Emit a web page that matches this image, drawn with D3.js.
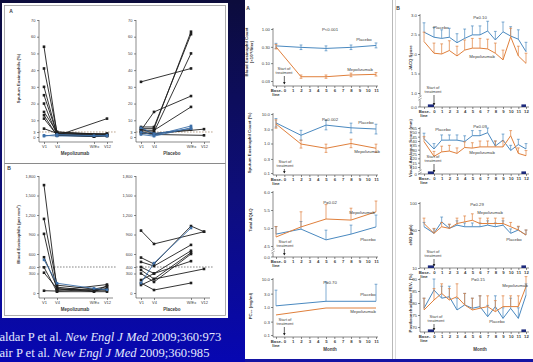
<!DOCTYPE html>
<html>
<head>
<meta charset="utf-8">
<script src="https://cdn.jsdelivr.net/npm/d3@7"></script>
<style>
  html, body { margin: 0; padding: 0; background: #0b0b5a; }
  svg { display: block; }
</style>
</head>
<body>
<svg id="chart" width="533" height="362"></svg>
<script>
// ---------- Haldar: single patients at V1, V4, withdrawal/exacerbation, V12 ----------
const visits = ['V1', 'V4', 'W/Ex', 'V12'];
const sputumTicks = [0, 3, 10, 20, 30, 40, 50, 60, 70];
const bloodTicks = [0, 300, 400, 600, 900, 1200, 1500, 1800];

const sputumMepo = [
  [54, 2, null, 1], [41, 3, null, 1.5], [30, 1.5, 0.5, 1], [25, 2, null, 0.8],
  [20, 1, 0.3, 2], [15, 3, null, 1], [13, 0.8, null, 11], [11, 1.2, 0.2, 0.5],
  [5, 2.2, null, 2]
];
const sputumMepoBlue = [[0.5, 1.5, 0.8, 1], [1, 0.6, null, 0.6]];
const sputumPlac = [
  [33, null, 41, null], [4, 15, 24.5, null], [5, 5, 63, null], [6, 6, 61.5, null],
  [3, 3, 50, null], [4, 4, 18, null], [5, 2, null, 4.7], [3, 1.5, null, 1], [2, 2, 4.5, null]
];
const sputumPlacBlue = [[3, 1, 6.6, null], [1.5, 0.5, 5.5, null], [5.5, 2, 5, null]];

const bloodMepo = [
  [1660, 60, null, 40], [1140, 120, 60, 100], [910, 40, null, 130], [550, 90, 30, 70],
  [395, 20, null, 20], [312, 70, 20, 110], [35, 30, null, 60]
];
const bloodMepoBlue = [[510, 150, 70, 50]];
const bloodPlac = [
  [960, 755, null, 943], [545, 446, 1030, 943], [478, 415, 740, null], [400, 300, 650, null],
  [354, 215, 620, null], [300, 170, 600, null], [200, 300, 490, null], [154, 46, 154, null],
  [123, 215, null, 370]
];
const bloodPlacBlue = [[154, 460, 1000, null]];

// ---------- Nair: group means by month (-1 = baseline) ----------
const nairMonths = [-1, 2, 5, 8, 11];
const pc20Months = [-1, 5, 11];
const bloodEosPlacebo = [0.32, 0.29, 0.27, 0.29, 0.33];
const bloodEosPlaceboLo = [0.27, 0.25, 0.23, 0.25, 0.28];
const bloodEosPlaceboHi = [0.38, 0.34, 0.32, 0.34, 0.39];
const bloodEosMepo = [0.30, 0.040, 0.040, 0.045, 0.047];
const bloodEosMepoLo = [0.26, 0.036, 0.036, 0.040, 0.042];
const bloodEosMepoHi = [0.35, 0.045, 0.045, 0.051, 0.053];
const sputumEosPlacebo = [5.0, 1.9, 4.2, 3.4, 3.1];
const sputumEosPlaceboLo = [3.6, 1.3, 2.9, 2.3, 2.1];
const sputumEosPlaceboHi = [7.0, 2.8, 6.0, 4.9, 4.5];
const sputumEosMepo = [4.6, 0.96, 0.69, 1.0, 0.69];
const sputumEosMepoLo = [3.3, 0.70, 0.50, 0.72, 0.50];
const sputumEosMepoHi = [6.3, 1.3, 0.95, 1.4, 0.95];
const aqlqPlacebo = [4.83, 4.97, 4.67, 4.83, 5.03];
const aqlqPlaceboHi = [5.04, 5.18, 4.94, 5.08, 5.36];
const aqlqMepo = [4.75, 5.03, 5.25, 5.22, 5.45];
const aqlqMepoHi = [5.04, 5.45, 5.65, 5.55, 5.75];
const pc20Placebo = [1.1, 1.6, 1.6];
const pc20PlaceboHi = [4.0, 8.0, 6.5];
const pc20Mepo = [0.52, 0.92, 0.92];

// ---------- Nair B: baseline (-1.3) then months 0..12 ----------
const monthsB = [-1.3, 0, 1, 2, 3, 4, 5, 6, 7, 8, 9, 10, 11, 12];
const jacqPlacebo = [2.56, 2.43, 2.40, 2.43, 2.29, 2.40, 2.49, 2.49, 2.59, 2.36, 2.57, 2.46, 2.38, 2.06];
const jacqPlaceboHi = [2.80, 2.68, 2.62, 2.66, 2.52, 2.64, 2.72, 2.72, 2.84, 2.58, 2.82, 2.70, 2.62, 2.30];
const jacqMepo = [2.32, 2.02, 2.00, 2.09, 1.95, 2.10, 2.15, 2.15, 2.13, 2.02, 1.85, 2.44, 1.95, 1.76];
const jacqMepoHi = [2.56, 2.28, 2.26, 2.34, 2.20, 2.36, 2.40, 2.40, 2.38, 2.28, 2.10, 2.66, 2.20, 2.02];
const vasPlacebo = [42.7, 30.8, 41, 41, 41, 39.3, 46.1, 46.1, 49.6, 34.2, 41, 29.1, 35.9, 30.8];
const vasPlaceboHi = [49, 37, 47, 47, 47, 46, 52, 52, 55, 40, 48, 35, 42, 37];
const vasMepo = [39.3, 22.3, 27.4, 28.4, 25.7, 32.5, 31.8, 33.2, 33.2, 33.2, 33.2, 46.1, 25.7, 23];
const vasMepoHi = [45, 28, 34, 35, 32, 39, 38, 40, 40, 40, 40, 52, 32, 29];
const enoPlacebo = [56, 46.5, 65, 53, 59, 56, 56, 56, 59, 56, 59, 46.5, 50, 44.7];
const enoPlaceboHi = [64, 52, 74, 60, 67, 63, 63, 63, 67, 63, 67, 52, 56, 50];
const enoMepo = [62, 46.5, 56, 53, 62, 65, 68, 62, 62, 62, 62, 56, 50, 44.7];
const enoMepoHi = [72, 53, 64, 61, 72, 76, 80, 72, 72, 72, 72, 64, 57, 50];
const fevPlacebo = [77.8, 85.4, 82, 82.6, 77.1, 79.2, 77.8, 78.5, 74.3, 78.5, 73.6, 77.8, 73.6, 83.3];
const fevPlaceboHi = [82, 90, 87, 87, 82, 84, 82, 83, 79, 83, 78, 82, 78, 88];
const fevMepo = [77.1, 81.25, 84, 81.25, 82.6, 79.2, 77.1, 77.8, 78.5, 76.4, 78.5, 78.5, 78.5, 86.8];
const fevMepoHi = [82, 86, 88, 86, 88, 84, 82, 83, 83, 81, 83, 83, 83, 91];

const citeLines = [
  ['aldar P et al. ', 'New Engl J Med', ' 2009;360:973'],
  ['air P et al. ', 'New Engl J Med', ' 2009;360:985']
];

const W = 533, H = 362;
const blue = '#4a89c0', orange = '#e0803c', ink = '#3c3c3c', navy = '#1d2a7c';
const FONT = 'Liberation Sans, Arial, sans-serif';
const svg = d3.select('#chart');

// background
const grad = svg.append('defs').append('linearGradient').attr('id', 'bg')
  .attr('x1', 0).attr('y1', 0).attr('x2', 0).attr('y2', 1);
grad.append('stop').attr('offset', '0%').attr('stop-color', '#0c0c3c');
grad.append('stop').attr('offset', '55%').attr('stop-color', '#0e0e7c');
grad.append('stop').attr('offset', '100%').attr('stop-color', '#0707b2');
svg.append('rect').attr('width', W).attr('height', H).attr('fill', 'url(#bg)');

function txt(g, s, x, y, o = {}) {
  return g.append('text').attr('x', x).attr('y', y).text(s)
    .attr('font-family', FONT).attr('font-size', o.size || 4.5)
    .attr('font-weight', o.bold ? 'bold' : null)
    .attr('text-anchor', o.anchor || 'middle')
    .attr('transform', o.rotate ? `rotate(-90,${x},${y})` : null)
    .attr('fill', o.fill || ink);
}
function styleAxis(a, size) {
  a.attr('font-family', FONT).attr('font-size', size || 4.5);
  a.selectAll('line').attr('stroke', ink).attr('stroke-width', 0.6);
  a.selectAll('text').attr('fill', ink);
  a.select('.domain').remove();
}
function vline(g, x, y1, y2, w) {
  g.append('line').attr('x1', x).attr('x2', x).attr('y1', y1).attr('y2', y2)
    .attr('stroke', ink).attr('stroke-width', w || 0.6);
}
function hline(g, x1, x2, y, w) {
  g.append('line').attr('x1', x1).attr('x2', x2).attr('y1', y).attr('y2', y)
    .attr('stroke', ink).attr('stroke-width', w || 0.6);
}

// ================= left figure (Haldar) =================
svg.append('rect').attr('x', 2).attr('y', 3).attr('width', 226).attr('height', 315).attr('fill', '#fff');
svg.append('rect').attr('x', 4.5).attr('y', 5.5).attr('width', 221).attr('height', 310)
  .attr('fill', 'none').attr('stroke', '#9a9a9a').attr('stroke-width', 0.8);
svg.append('line').attr('x1', 4.5).attr('x2', 225.5).attr('y1', 163.5).attr('y2', 163.5)
  .attr('stroke', '#8a8a8a').attr('stroke-width', 1.2);

function haldar(c) {
  const g = svg.append('g');
  const y = d3.scaleLinear().domain(c.domain).range(c.range);
  const x = d3.scaleOrdinal().domain(visits).range([c.ax + 5, c.ax + 18, c.ax + 55, c.ax + 68]);
  g.append('g').attr('transform', `translate(${c.ax},0)`)
    .call(d3.axisLeft(y).tickValues(c.ticks).tickSize(2).tickPadding(1.5))
    .call(a => styleAxis(a, 4));
  vline(g, c.ax, c.range[1], c.ay);
  hline(g, c.ax, c.ax + 74, c.ay);
  g.append('g').attr('transform', `translate(0,${c.ay})`)
    .call(d3.axisBottom(x).tickSize(2).tickPadding(1.5))
    .call(a => styleAxis(a, 4));
  txt(g, c.title, c.ax + 36, c.ay + 13, { bold: true, size: 4.5 });
  if (c.ytitle) txt(g, c.ytitle, c.ax - 19, (c.range[0] + c.range[1]) / 2, { bold: true, rotate: true, size: 4.3 });
  g.append('line').attr('x1', c.ax).attr('x2', c.ax + 78).attr('y1', y(c.thresh)).attr('y2', y(c.thresh))
    .attr('stroke', c.dashColor).attr('stroke-width', 0.7).attr('stroke-dasharray', '1.6,1.4');
  const line = d3.line().x(d => x(d.v)).y(d => y(d.val));
  const draw = (rows, color) => rows.forEach(r => {
    const pts = visits.map((v, i) => ({ v, val: r[i] })).filter(d => d.val != null);
    g.append('path').datum(pts).attr('d', line).attr('fill', 'none')
      .attr('stroke', color).attr('stroke-width', 0.9);
    g.selectAll(null).data(pts).join('rect')
      .attr('x', d => x(d.v) - 1.3).attr('y', d => y(d.val) - 1.3)
      .attr('width', 2.6).attr('height', 2.6).attr('fill', color);
  });
  draw(c.rows, '#1e1e1e');
  draw(c.blueRows, '#3d6fa8');
}

haldar({ ax: 39, ay: 142, domain: [0, 70], range: [137, 20], ticks: sputumTicks, thresh: 3,
  rows: sputumMepo, blueRows: sputumMepoBlue, title: 'Mepolizumab', ytitle: 'Sputum Eosinophils (%)', dashColor: '#a08060' });
haldar({ ax: 136, ay: 142, domain: [0, 70], range: [137, 20], ticks: sputumTicks, thresh: 3,
  rows: sputumPlac, blueRows: sputumPlacBlue, title: 'Placebo', dashColor: '#a08060' });
haldar({ ax: 39, ay: 298, domain: [0, 1800], range: [293, 176], ticks: bloodTicks, thresh: 400,
  rows: bloodMepo, blueRows: bloodMepoBlue, title: 'Mepolizumab', ytitle: 'Blood Eosinophils (per mm\u00b3)', dashColor: '#555' });
haldar({ ax: 136, ay: 298, domain: [0, 1800], range: [293, 176], ticks: bloodTicks, thresh: 400,
  rows: bloodPlac, blueRows: bloodPlacBlue, title: 'Placebo', dashColor: '#555' });
txt(svg, 'A', 11, 13, { bold: true, size: 5 });
txt(svg, 'B', 9, 170, { bold: true, size: 5 });

// citations
citeLines.forEach((parts, i) => {
  const t = svg.append('text').attr('x', -0.5).attr('y', 341 + i * 16)
    .attr('font-family', 'Liberation Serif, Times New Roman, serif').attr('font-size', 14)
    .attr('fill', '#e4e9ff');
  parts.forEach((p, j) => t.append('tspan').text(p).attr('font-style', j === 1 ? 'italic' : null));
  if (i === 0) {
    const len = t.node().getComputedTextLength();
    svg.selectAll('.citeSize').remove();
    svg.attr('data-cite', 14 * 222 / len);
  }
});
const citeSize = +svg.attr('data-cite');
svg.selectAll('text').filter(function () { return this.getAttribute('font-size') === '14'; })
  .attr('font-size', citeSize);

// ================= Nair panels =================
svg.append('rect').attr('x', 245).attr('y', 0).attr('width', 147).attr('height', 359).attr('fill', '#fff');
svg.append('rect').attr('x', 393).attr('y', 0).attr('width', 140).attr('height', 359).attr('fill', '#fff');
svg.append('line').attr('x1', 392.5).attr('x2', 392.5).attr('y1', 0).attr('y2', 359).attr('stroke', '#b8b8b8').attr('stroke-width', 1);
svg.append('line').attr('x1', 395.5).attr('x2', 395.5).attr('y1', 0).attr('y2', 359).attr('stroke', '#d0d0d0').attr('stroke-width', 0.8);
svg.append('rect').attr('x', 245).attr('y', 359).attr('width', 288).attr('height', 3).attr('fill', '#1414a4');
txt(svg, 'A', 248, 10, { bold: true, size: 5 });
txt(svg, 'B', 398, 10, { bold: true, size: 5 });

const xA = d3.scaleLinear().domain([-1, 11]).range([276, 376]);
const xB = d3.scaleLinear().domain([0, 12]).range([434, 526]);
const ticksA = [-1, 0, 1, 2, 3, 4, 5, 6, 7, 8, 9, 10, 11];
const ticksB = [-1.3, 0, 1, 2, 3, 4, 5, 6, 7, 8, 9, 10, 11, 12];

function trend(c) {
  const g = svg.append('g');
  const { x, y } = c;
  const bot = y.range()[0], top = y.range()[y.range().length - 1];
  g.append('g').attr('transform', `translate(${c.ax},0)`)
    .call(d3.axisLeft(y).tickValues(c.ticks).tickFormat(c.fmt).tickSize(2).tickPadding(1))
    .call(a => styleAxis(a, 4.3));
  if (c.brk) {
    vline(g, c.ax, top - 1, bot + 3);
    vline(g, c.ax, bot + 7, c.ay);
    g.append('path').attr('d', `M${c.ax - 1.6},${bot + 4.8}l3.2,-2M${c.ax - 1.6},${bot + 7.2}l3.2,-2`)
      .attr('stroke', ink).attr('stroke-width', 0.5).attr('fill', 'none');
    hline(g, c.ax - 2, c.ax, c.ay);
    txt(g, c.brk, c.ax - 3, c.ay + 1.5, { anchor: 'end', size: 4.3 });
  } else {
    vline(g, c.ax, top - 1, c.ay);
  }
  hline(g, c.ax, c.xEnd, c.ay);
  const xa = g.append('g').attr('transform', `translate(0,${c.ay})`)
    .call(d3.axisBottom(x).tickValues(c.xTicks).tickFormat(d => d === c.xTicks[0] ? 'Base-' : d)
      .tickSize(2).tickPadding(1))
    .call(a => styleAxis(a, 4.3));
  xa.selectAll('text').attr('font-weight', 'bold');
  txt(g, 'line', x(c.xTicks[0]), c.ay + 10, { bold: true, size: 4.3 });
  if (c.periods) {
    g.append('rect').attr('x', x(-0.8)).attr('y', c.ay - 2.6).attr('width', x(0) - x(-0.8)).attr('height', 2.6).attr('fill', navy);
    g.append('rect').attr('x', x(11.4)).attr('y', c.ay - 2.6).attr('width', x(12) - x(11.4)).attr('height', 2.6).attr('fill', navy);
  }
  // series
  c.series.forEach(s => {
    const pts = c.months.map((m, i) => ({ m, v: s.v[i], hi: s.hi ? s.hi[i] : null, lo: s.lo ? s.lo[i] : null }));
    pts.forEach(p => {
      [p.hi, p.lo].forEach(e => {
        if (e == null) return;
        g.append('line').attr('x1', x(p.m)).attr('x2', x(p.m)).attr('y1', y(p.v)).attr('y2', y(e))
          .attr('stroke', s.color).attr('stroke-width', 0.7);
        g.append('line').attr('x1', x(p.m) - 1.4).attr('x2', x(p.m) + 1.4).attr('y1', y(e)).attr('y2', y(e))
          .attr('stroke', s.color).attr('stroke-width', 0.7);
      });
    });
    g.append('path').datum(pts).attr('d', d3.line().x(p => x(p.m)).y(p => y(p.v)))
      .attr('fill', 'none').attr('stroke', s.color).attr('stroke-width', 1);
  });
  c.notes.forEach(n => txt(g, n[0], n[1], n[2], { size: 4.3 }));
  // start of treatment
  txt(g, 'Start of', c.start[0], c.start[1], { size: 4 });
  txt(g, 'treatment', c.start[0], c.start[1] + 4.3, { size: 4 });
  const ax0 = x(0);
  g.append('line').attr('x1', ax0).attr('x2', ax0).attr('y1', c.start[1] + 6).attr('y2', c.ay - 2)
    .attr('stroke', '#222').attr('stroke-width', 0.7);
  g.append('path').attr('d', `M${ax0 - 1.3},${c.ay - 4}L${ax0},${c.ay - 1.5}L${ax0 + 1.3},${c.ay - 4}Z`).attr('fill', '#222');
  c.ytitle.forEach((t, i) => txt(g, t, c.tx + i * 5, c.tyc, { bold: true, rotate: true, size: 4.3 }));
  if (c.month) txt(g, 'Month', c.month[0], c.month[1], { bold: true, size: 4.5 });
}

const f2 = d3.format('.2f'), f1 = d3.format('.1f');
trend({ x: xA, y: d3.scaleLog().domain([0.03, 1]).range([81, 29]), ax: 273, ay: 86, xEnd: 378,
  ticks: [0.03, 0.1, 0.3, 1], fmt: f2, xTicks: ticksA, months: nairMonths,
  series: [{ v: bloodEosPlacebo, lo: bloodEosPlaceboLo, hi: bloodEosPlaceboHi, color: blue },
           { v: bloodEosMepo, lo: bloodEosMepoLo, hi: bloodEosMepoHi, color: orange }],
  notes: [['P<0.001', 330, 31], ['Placebo', 364, 41], ['Mepolizumab', 360, 71]],
  start: [284, 70], ytitle: ['Blood Eosinophil Count', '(\u00d710\u207b\u2079/liter)'], tx: 248, tyc: 52 });
trend({ x: xA, y: d3.scaleLog().domain([0.1, 10]).range([173, 114]), ax: 273, ay: 175, xEnd: 378,
  ticks: [0.1, 0.3, 1, 3, 10], fmt: f1, xTicks: ticksA, months: nairMonths,
  series: [{ v: sputumEosPlacebo, lo: sputumEosPlaceboLo, hi: sputumEosPlaceboHi, color: blue },
           { v: sputumEosMepo, lo: sputumEosMepoLo, hi: sputumEosMepoHi, color: orange }],
  notes: [['P=0.002', 330, 121], ['Placebo', 366, 124], ['Mepolizumab', 367, 153]],
  start: [285, 163], ytitle: ['Sputum Eosinophil Count (%)'], tx: 251, tyc: 143 });
trend({ x: xA, y: d3.scaleLinear().domain([4.5, 6]).range([246, 192]), ax: 273, ay: 257, xEnd: 378,
  ticks: [4.5, 5, 5.5, 6], fmt: f1, brk: '0.0', xTicks: ticksA, months: nairMonths,
  series: [{ v: aqlqPlacebo, hi: aqlqPlaceboHi, color: blue },
           { v: aqlqMepo, hi: aqlqMepoHi, color: orange }],
  notes: [['P=0.02', 330, 204], ['Mepolizumab', 362, 214], ['Placebo', 368, 241]],
  start: [285, 243], ytitle: ['Total AQLQ'], tx: 252, tyc: 220 });
trend({ x: xA, y: d3.scaleLog().domain([0.1, 10]).range([335, 279]), ax: 273, ay: 337, xEnd: 378,
  ticks: [0.1, 0.3, 1, 3, 10], fmt: f1, xTicks: ticksA, months: pc20Months,
  series: [{ v: pc20Placebo, hi: pc20PlaceboHi, color: blue },
           { v: pc20Mepo, color: orange }],
  notes: [['P=0.70', 330, 284], ['Placebo', 368, 296], ['Mepolizumab', 363, 313]],
  start: [285, 321], ytitle: ['PC\u2082\u2080 (mg/ml)'], tx: 252, tyc: 306, month: [330, 351] });

trend({ x: xB, y: d3.scaleLinear().domain([1, 3]).range([93, 15]), ax: 420, ay: 107, xEnd: 529,
  ticks: [1, 1.5, 2, 2.5, 3], fmt: f1, brk: '0.0', xTicks: ticksB, months: monthsB, periods: true,
  series: [{ v: jacqPlacebo, hi: jacqPlaceboHi, color: blue },
           { v: jacqMepo, hi: jacqMepoHi, color: orange }],
  notes: [['P=0.10', 480, 19], ['Placebo', 441, 29], ['Mepolizumab', 482, 58]],
  start: [433, 89], ytitle: ['JACQ Score'], tx: 412, tyc: 58 });
trend({ x: xB, y: d3.scaleLinear().domain([10, 55]).range([167, 128]), ax: 420, ay: 174, xEnd: 529,
  ticks: [10, 15, 20, 25, 30, 35, 40, 45, 50, 55], fmt: d3.format('d'), brk: '0', xTicks: ticksB, months: monthsB, periods: true,
  series: [{ v: vasPlacebo, hi: vasPlaceboHi, color: blue },
           { v: vasMepo, hi: vasMepoHi, color: orange }],
  notes: [['P=0.09', 480, 128], ['Placebo', 443, 131], ['Mepolizumab', 482, 154]],
  start: [433, 158], ytitle: ['Visual Analogue Score (mm)'], tx: 412, tyc: 148 });
trend({ x: xB, y: d3.scaleLinear().domain([10, 50, 100]).range([268, 230, 203]), ax: 420, ay: 268, xEnd: 529,
  ticks: [10, 50, 100], fmt: d3.format('d'), xTicks: ticksB, months: monthsB, periods: true,
  series: [{ v: enoPlacebo, hi: enoPlaceboHi, color: blue },
           { v: enoMepo, hi: enoMepoHi, color: orange }],
  notes: [['P=0.29', 477, 206], ['Mepolizumab', 490, 214], ['Placebo', 514, 241]],
  start: [433, 253], ytitle: ['eNO (ppb)'], tx: 412, tyc: 235 });
trend({ x: xB, y: d3.scaleLinear().domain([70, 90]).range([327, 279]), ax: 420, ay: 332, xEnd: 529,
  ticks: [70, 75, 80, 85, 90], fmt: d3.format('d'), xTicks: ticksB, months: monthsB, periods: true,
  series: [{ v: fevPlacebo, hi: fevPlaceboHi, color: blue },
           { v: fevMepo, hi: fevMepoHi, color: orange }],
  notes: [['P=0.15', 478, 281], ['Mepolizumab', 515, 287], ['Placebo', 497, 323]],
  start: [436, 318], ytitle: ['Postbronchodilator FEV\u2081 (%)'], tx: 412, tyc: 303, month: [480, 351] });
</script>
</body>
</html>
